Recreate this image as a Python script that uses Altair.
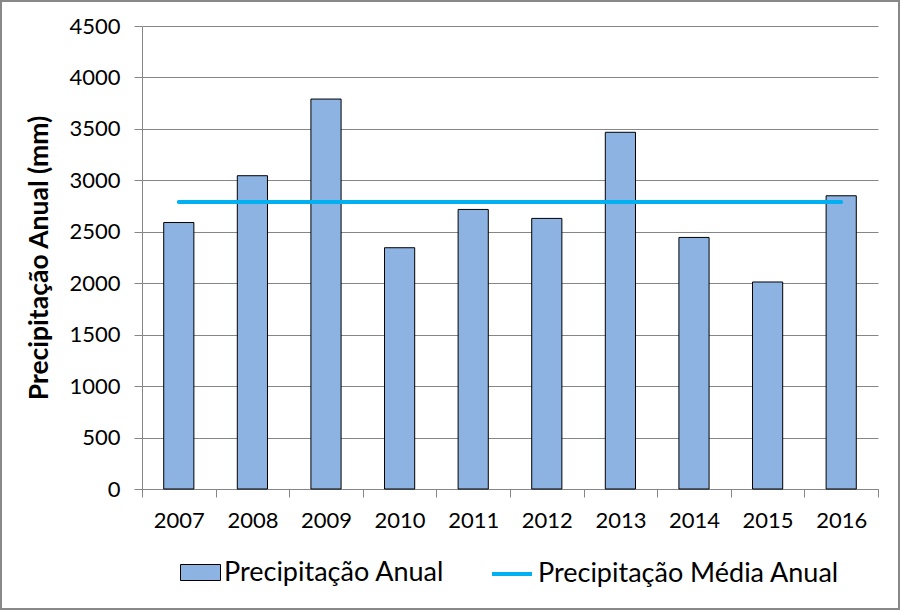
import altair as alt
import pandas as pd

anos = ["2007", "2008", "2009", "2010", "2011", "2012", "2013", "2014", "2015", "2016"]
precipitacao = [2590, 3045, 3790, 2345, 2717, 2630, 3467, 2445, 2012, 2850]
media_anual = [2790, 2790, 2790, 2790, 2790, 2790, 2790, 2790, 2790, 2790]
y_ticks = [0, 500, 1000, 1500, 2000, 2500, 3000, 3500, 4000, 4500]

serie_barra = "Precipitação Anual"
serie_linha = "Precipitação Média Anual"

df = pd.DataFrame({
    "ano": anos,
    "precip": precipitacao,
    "media": media_anual,
    "s_barra": [serie_barra] * len(anos),
    "s_linha": [serie_linha] * len(anos),
})

FONT = "Lato"
GRAY = "#868686"
BAR_COLOR = "#8DB3E2"
LINE_COLOR = "#00B0F0"

W, H = 736, 463

x_enc = alt.X(
    "ano:O",
    title=None,
    sort=anos,
    scale=alt.Scale(paddingInner=0, paddingOuter=0),
    axis=alt.Axis(
        tickBand="extent",
        labelAngle=0,
        labelFont=FONT,
        labelFontSize=22,
        labelColor="black",
        labelPadding=13,
        tickSize=8,
        tickColor=GRAY,
        domainColor=GRAY,
        grid=False,
    ),
)

y_scale = alt.Scale(domain=[0, 4500], nice=False)

y_axis = alt.Axis(
    values=y_ticks,
    format="d",
    title="Precipitação Anual (mm)",
    titleFont=FONT,
    titleFontSize=26.5,
    titleFontWeight="bold",
    titleColor="black",
    titlePadding=15,
    labelFont=FONT,
    labelFontSize=22,
    labelColor="black",
    labelPadding=14,
    tickSize=8,
    tickColor=GRAY,
    domainColor=GRAY,
    grid=True,
    gridColor=GRAY,
    gridWidth=1,
)

base = alt.Chart(df)

bars = base.mark_bar(
    width=alt.RelativeBandSize(0.41), stroke="black", strokeWidth=1
).encode(
    x=x_enc,
    y=alt.Y("precip:Q", axis=y_axis, scale=y_scale),
    fill=alt.Fill(
        "s_barra:N",
        scale=alt.Scale(domain=[serie_barra], range=[BAR_COLOR]),
        legend=alt.Legend(
            orient="none",
            legendX=38,
            legendY=526,
            title=None,
            padding=0,
            symbolType="M-1,-0.4H1V0.4H-1Z",
            symbolSize=1600,
            symbolStrokeColor="black",
            symbolStrokeWidth=1,
            labelFont=FONT,
            labelFontSize=27,
            labelColor="black",
            labelOffset=3,
            labelLimit=400,
        ),
    ),
)

line = base.mark_line(strokeWidth=4, strokeCap="round").encode(
    x=x_enc,
    y=alt.Y("media:Q", axis=y_axis, scale=y_scale),
    stroke=alt.Stroke(
        "s_linha:N",
        scale=alt.Scale(domain=[serie_linha], range=[LINE_COLOR]),
        legend=alt.Legend(
            orient="none",
            legendX=348,
            legendY=526,
            title=None,
            padding=0,
            symbolType="M-1,0H1",
            symbolSize=1600,
            symbolStrokeWidth=4,
            labelFont=FONT,
            labelFontSize=27,
            labelColor="black",
            labelOffset=4,
            labelLimit=400,
        ),
    ),
)

frame = alt.Chart(pd.DataFrame({"f": [0]})).mark_rect(
    fill="transparent", stroke="#888888", strokeWidth=2
).encode(
    x=alt.value(-141), x2=alt.value(757), y=alt.value(-25), y2=alt.value(583)
)

chart = alt.layer(bars, line, frame).resolve_scale(
    y="shared"
).properties(
    width=W,
    height=H,
    padding={"left": 142, "top": 26, "right": 23, "bottom": 121},
    autosize=alt.AutoSizeParams(type="none"),
    background="white",
).configure_view(stroke=None)

chart.save("out.html", embed_options={"renderer": "svg", "actions": False})
